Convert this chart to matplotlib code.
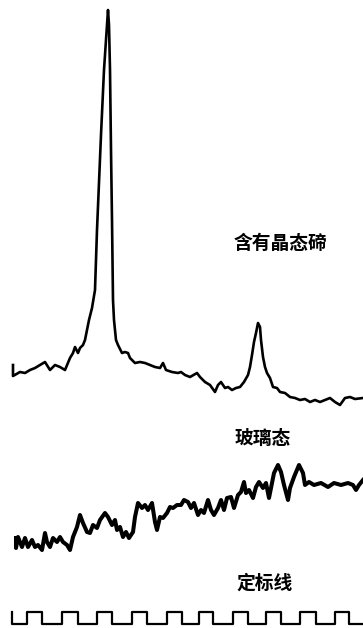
import matplotlib
matplotlib.use("Agg")
import matplotlib.pyplot as plt

plt.rcParams['font.family'] = ['Noto Sans CJK SC', 'DejaVu Sans']

# trace with crystalline Te (x position, deflection, downwards positive)
cryst_x = [13, 13, 20, 25, 30, 35, 40, 45, 50, 55, 60, 65, 70, 73, 75, 78, 80, 83, 85, 87, 89,
           92, 95, 97, 101, 104, 107, 108, 109, 110, 111, 112, 113, 114, 116, 118, 122, 125,
           128, 130, 135, 140, 145, 150, 155, 160, 163, 166, 172, 178, 181, 185, 190, 197,
           200, 205, 210, 215, 218, 221, 225, 228, 232, 236, 240, 244, 248, 250, 252, 254,
           256, 258, 260, 261, 263, 265, 267, 270, 273, 277, 280, 285, 290, 295, 300, 305,
           310, 315, 320, 325, 330, 335, 340, 345, 350, 355, 363]
cryst_y = [365, 376, 372, 373, 370, 368, 365, 362, 370, 365, 367, 370, 358, 353, 347, 353, 348,
           345, 340, 330, 320, 308, 290, 230, 135, 70, 25, 10, 25, 70, 150, 220, 300, 320,
           340, 345, 353, 352, 353, 358, 363, 362, 363, 365, 367, 368, 363, 370, 372, 373,
           372, 375, 377, 373, 377, 382, 385, 392, 385, 382, 388, 387, 390, 388, 387, 382,
           375, 367, 355, 342, 333, 323, 327, 340, 357, 367, 373, 378, 387, 388, 392, 393,
           397, 398, 400, 399, 402, 400, 402, 400, 398, 402, 405, 398, 397, 399, 398]

# glassy trace
glass_x = [16, 16, 18, 22, 25, 28, 32, 35, 38, 42, 45, 47, 50, 53, 57, 60, 63, 67, 70, 73, 77,
           80, 83, 87, 90, 93, 97, 100, 105, 108, 112, 115, 117, 120, 123, 126, 129, 133,
           135, 138, 142, 145, 148, 152, 155, 157, 160, 163, 167, 170, 173, 177, 181, 184,
           188, 191, 194, 198, 201, 204, 208, 211, 214, 218, 221, 224, 227, 231, 234, 238,
           241, 244, 246, 249, 253, 256, 259, 263, 266, 269, 272, 274, 278, 281, 284, 288,
           290, 294, 299, 303, 305, 309, 314, 321, 328, 334, 341, 348, 353, 356, 359, 363]
glass_y = [538, 548, 537, 547, 538, 547, 540, 547, 545, 550, 533, 542, 547, 538, 542, 537, 542,
           545, 550, 537, 527, 515, 523, 532, 533, 525, 528, 520, 513, 517, 525, 520, 530,
           527, 537, 532, 538, 532, 517, 503, 508, 505, 510, 503, 522, 530, 517, 518, 513,
           507, 508, 505, 505, 500, 502, 508, 503, 515, 510, 513, 500, 510, 515, 508, 500,
           510, 498, 497, 508, 495, 492, 482, 493, 490, 498, 487, 482, 488, 483, 498, 483,
           473, 465, 472, 485, 500, 488, 477, 465, 473, 485, 482, 485, 483, 487, 483, 485,
           483, 485, 490, 485, 480]

# calibration square wave
cal_rise = [27, 62, 97, 132, 167, 199, 233, 266, 300, 335]
cal_fall = [42, 78, 112, 147, 182, 213, 248, 281, 316, 349]
cal_start, cal_end = 12, 363
cal_high, cal_low = 612, 624

labels = ['含有晶态碲', '玻璃态', '定标线']
label_x = [234, 235, 236]
label_y = [243, 438, 583]

fig = plt.figure(figsize=(3.63, 6.28), dpi=100)
ax = fig.add_axes([0, 0, 1, 1])

ax.plot(cryst_x, cryst_y, color='black', lw=1.9, solid_joinstyle='round')
ax.plot(glass_x, glass_y, color='black', lw=2.9, solid_joinstyle='round')

# build the square wave from its edges
sx = [cal_start, cal_start]
sy = [cal_high, cal_low]
for r, f in zip(cal_rise, cal_fall):
    sx += [r, r, f, f]
    sy += [cal_low, cal_high, cal_high, cal_low]
sx.append(cal_end)
sy.append(cal_low)
ax.plot(sx, sy, color='black', lw=1.6)

for t, x, y in zip(labels, label_x, label_y):
    ax.text(x, y, t, ha='left', va='center', fontsize=13.5, fontweight='heavy')

ax.set_xlim(0, 363)
ax.set_ylim(628, 0)
ax.axis('off')

fig.savefig('out.png', dpi=100)
